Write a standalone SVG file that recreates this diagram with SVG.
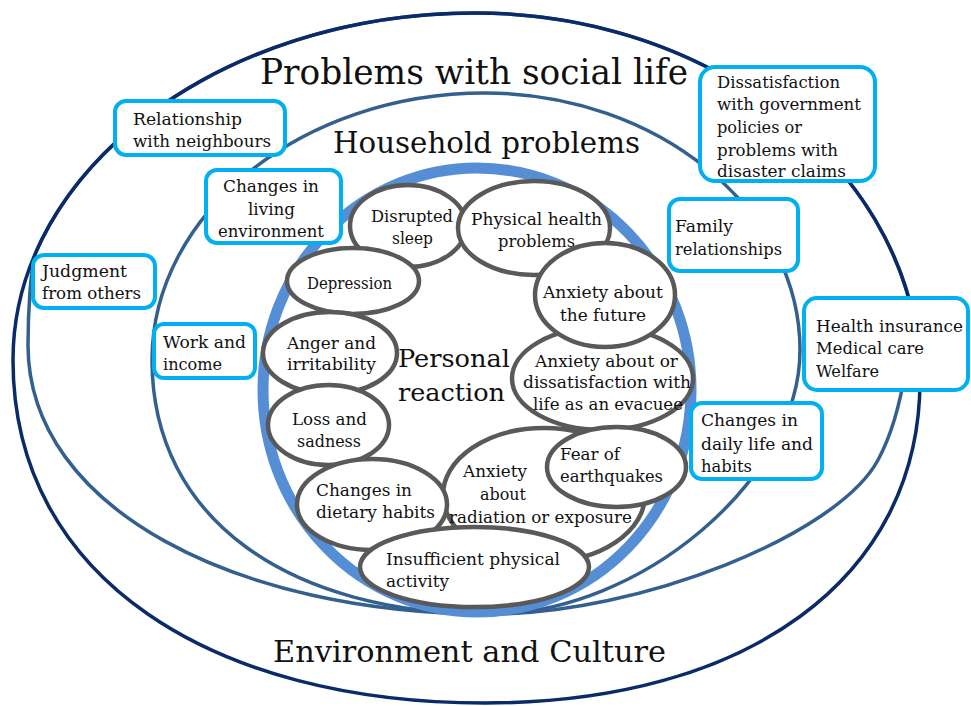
<svg xmlns="http://www.w3.org/2000/svg" width="971" height="706" viewBox="0 0 971 706">
<style>
text{font-family:"DejaVu Serif","Liberation Serif",serif;fill:#111;}
.t{font-size:16.5px;}
.big{font-size:36px;}
.mid{font-size:29px;}
.pr{font-size:25px;}
.box{fill:#fff;stroke:#00B0F0;stroke-width:4;}
.ell{fill:#fff;stroke:#595959;stroke-width:4.5;}
.ring{fill:none;stroke-width:3.5;}
</style>
<rect width="971" height="706" fill="#fff"/>
<g id="rings">
<path class="ring" stroke="#33608F" d="M475,13 C683.25,13 859,132.2 907,292 C915.5,320 905,410 878,460 C837.5,535 640,614 490,614 C240,614 28,510 28,345 C28,320 30,265 36.6,250.6 C98,112.8 271.8,13 475,13 Z"/>
<path class="ring" stroke="#0B2A68" d="M475,13 C720,13 920,178 920,380 C920,580 745,703 485,703 C215,703 13,580 13,360 C13,169 221,13 475,13 Z"/>
<path class="ring" stroke="#33608F" d="M485,93 C657,93 800,209 800,350 C800,480 640,614 490,614 C290,614 152,520 152,360 C152,213 302,93 485,93 Z"/>
<ellipse id="personal-ring" cx="477" cy="390" rx="214" ry="222" fill="none" stroke="#558ED5" stroke-width="11"/>
</g>
<g id="labels">
<text class="big" x="260" y="84" textLength="428" lengthAdjust="spacingAndGlyphs">Problems with social life</text>
<text class="mid" x="333" y="153" textLength="307" lengthAdjust="spacingAndGlyphs">Household problems</text>
<text class="mid" x="273" y="662" textLength="393" lengthAdjust="spacingAndGlyphs">Environment and Culture</text>
<text class="pr" x="398" y="367" textLength="112" lengthAdjust="spacingAndGlyphs">Personal</text>
<text class="pr" x="398" y="401" textLength="107" lengthAdjust="spacingAndGlyphs">reaction</text>
</g>
<g id="box-neighbours">
<rect class="box" x="115" y="101" width="170" height="54" rx="11"/>
<text class="t" x="133" y="125" textLength="109" lengthAdjust="spacingAndGlyphs">Relationship</text>
<text class="t" x="133" y="147" textLength="138" lengthAdjust="spacingAndGlyphs">with neighbours</text>
</g>
<g id="box-living">
<rect class="box" x="206" y="170" width="135" height="73" rx="11"/>
<text class="t" x="223" y="192" textLength="96" lengthAdjust="spacingAndGlyphs">Changes in</text>
<text class="t" x="248" y="215" textLength="47" lengthAdjust="spacingAndGlyphs">living</text>
<text class="t" x="218" y="237" textLength="106" lengthAdjust="spacingAndGlyphs">environment</text>
</g>
<g id="box-judgment">
<rect class="box" x="33" y="255" width="122" height="53" rx="11"/>
<text class="t" x="42" y="277" textLength="85" lengthAdjust="spacingAndGlyphs">Judgment</text>
<text class="t" x="42" y="299" textLength="99" lengthAdjust="spacingAndGlyphs">from others</text>
</g>
<g id="box-work">
<rect class="box" x="154" y="324" width="101" height="54" rx="10"/>
<text class="t" x="163" y="348" textLength="83" lengthAdjust="spacingAndGlyphs">Work and</text>
<text class="t" x="163" y="370" textLength="59" lengthAdjust="spacingAndGlyphs">income</text>
</g>
<g id="box-government">
<rect class="box" x="700" y="67" width="175" height="114" rx="15"/>
<text class="t" x="717" y="88" textLength="123" lengthAdjust="spacingAndGlyphs">Dissatisfaction</text>
<text class="t" x="717" y="110" textLength="144" lengthAdjust="spacingAndGlyphs">with government</text>
<text class="t" x="717" y="133" textLength="85" lengthAdjust="spacingAndGlyphs">policies or</text>
<text class="t" x="717" y="156" textLength="121" lengthAdjust="spacingAndGlyphs">problems with</text>
<text class="t" x="717" y="177" textLength="129" lengthAdjust="spacingAndGlyphs">disaster claims</text>
</g>
<g id="box-family">
<rect class="box" x="669" y="199" width="129" height="72" rx="11"/>
<text class="t" x="675" y="232" textLength="58" lengthAdjust="spacingAndGlyphs">Family</text>
<text class="t" x="675" y="255" textLength="107" lengthAdjust="spacingAndGlyphs">relationships</text>
</g>
<g id="box-health">
<rect class="box" x="804" y="298" width="164" height="92" rx="13"/>
<text class="t" x="816" y="332" textLength="147" lengthAdjust="spacingAndGlyphs">Health insurance</text>
<text class="t" x="816" y="354" textLength="108" lengthAdjust="spacingAndGlyphs">Medical care</text>
<text class="t" x="816" y="377" textLength="63" lengthAdjust="spacingAndGlyphs">Welfare</text>
</g>
<g id="box-daily">
<rect class="box" x="691" y="403" width="131" height="76" rx="11"/>
<text class="t" x="701" y="426" textLength="97" lengthAdjust="spacingAndGlyphs">Changes in</text>
<text class="t" x="701" y="450" textLength="112" lengthAdjust="spacingAndGlyphs">daily life and</text>
<text class="t" x="701" y="472" textLength="51" lengthAdjust="spacingAndGlyphs">habits</text>
</g>
<g id="e-sleep">
<ellipse class="ell" cx="408" cy="226" rx="58" ry="41"/>
<text class="t" x="371" y="222" textLength="82" lengthAdjust="spacingAndGlyphs">Disrupted</text>
<text class="t" x="392" y="244" textLength="41" lengthAdjust="spacingAndGlyphs">sleep</text>
</g>
<g id="e-physical">
<ellipse class="ell" cx="534" cy="228" rx="76" ry="47"/>
<text class="t" x="471" y="225" textLength="131" lengthAdjust="spacingAndGlyphs">Physical health</text>
<text class="t" x="498" y="247" textLength="77" lengthAdjust="spacingAndGlyphs">problems</text>
</g>
<g id="e-depression">
<ellipse class="ell" cx="353" cy="281" rx="66" ry="33"/>
<text class="t" x="307" y="289" textLength="85" lengthAdjust="spacingAndGlyphs">Depression</text>
</g>
<g id="e-anger">
<ellipse class="ell" cx="330" cy="353" rx="67" ry="41"/>
<text class="t" x="287" y="349" textLength="89" lengthAdjust="spacingAndGlyphs">Anger and</text>
<text class="t" x="287" y="370" textLength="89" lengthAdjust="spacingAndGlyphs">irritability</text>
</g>
<g id="e-loss">
<ellipse class="ell" cx="328.5" cy="425" rx="60.5" ry="40"/>
<text class="t" x="292" y="425" textLength="75" lengthAdjust="spacingAndGlyphs">Loss and</text>
<text class="t" x="297" y="447" textLength="64" lengthAdjust="spacingAndGlyphs">sadness</text>
</g>
<g id="e-evacuee">
<ellipse class="ell" cx="602.5" cy="378.5" rx="90.5" ry="51.5"/>
<text class="t" x="535" y="367" textLength="143" lengthAdjust="spacingAndGlyphs">Anxiety about or</text>
<text class="t" x="523" y="388" textLength="168" lengthAdjust="spacingAndGlyphs">dissatisfaction  with</text>
<text class="t" x="533" y="410" textLength="150" lengthAdjust="spacingAndGlyphs">life as an evacuee</text>
</g>
<g id="e-future">
<ellipse class="ell" cx="605" cy="295" rx="70" ry="52"/>
<text class="t" x="543" y="298" textLength="120" lengthAdjust="spacingAndGlyphs">Anxiety about</text>
<text class="t" x="560" y="321" textLength="86" lengthAdjust="spacingAndGlyphs">the future</text>
</g>
<g id="e-radiation">
<ellipse class="ell" cx="544" cy="495" rx="101" ry="67"/>
<text class="t" x="463" y="477" textLength="64" lengthAdjust="spacingAndGlyphs">Anxiety</text>
<text class="t" x="480" y="500" textLength="46" lengthAdjust="spacingAndGlyphs">about</text>
<text class="t" x="449" y="523" textLength="183" lengthAdjust="spacingAndGlyphs">radiation  or exposure</text>
</g>
<g id="e-dietary">
<ellipse class="ell" cx="372" cy="504.5" rx="75" ry="45.5"/>
<text class="t" x="316" y="496" textLength="96" lengthAdjust="spacingAndGlyphs">Changes in</text>
<text class="t" x="316" y="518" textLength="119" lengthAdjust="spacingAndGlyphs">dietary habits</text>
</g>
<g id="e-earthquakes">
<ellipse class="ell" cx="616.5" cy="467" rx="69.5" ry="40"/>
<text class="t" x="560" y="460" textLength="60" lengthAdjust="spacingAndGlyphs">Fear of</text>
<text class="t" x="560" y="482" textLength="103" lengthAdjust="spacingAndGlyphs">earthquakes</text>
</g>
<g id="e-activity">
<ellipse class="ell" cx="474.5" cy="567" rx="114.5" ry="40"/>
<text class="t" x="386" y="565" textLength="174" lengthAdjust="spacingAndGlyphs">Insufficient  physical</text>
<text class="t" x="386" y="587" textLength="63" lengthAdjust="spacingAndGlyphs">activity</text>
</g>
</svg>
